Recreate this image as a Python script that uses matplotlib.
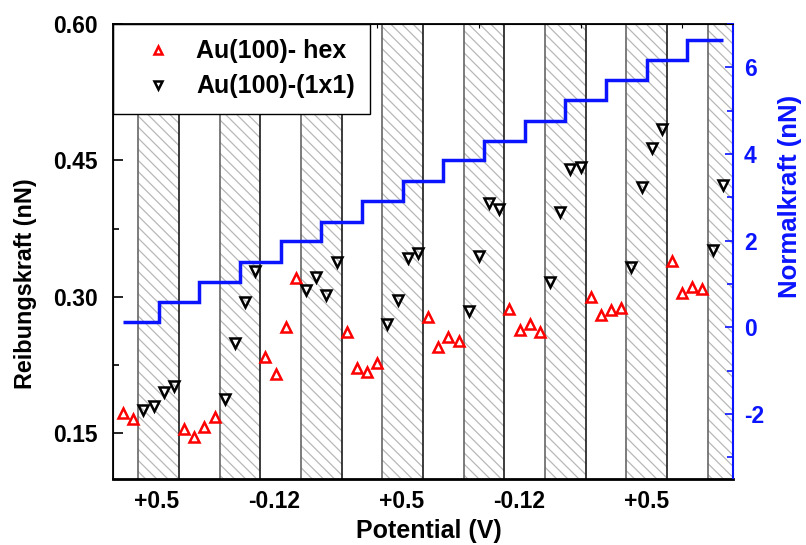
import numpy as np
import matplotlib
matplotlib.use("Agg")
import matplotlib.pyplot as plt
from matplotlib.ticker import MultipleLocator

plt.rcParams["font.family"] = ["Liberation Sans", "DejaVu Sans"]
plt.rcParams["font.weight"] = "bold"
plt.rcParams["hatch.linewidth"] = 0.9
plt.rcParams["axes.unicode_minus"] = False

# friction force, one value per measurement (index along the potential sequence)
hex_x = [0, 1, 6, 7, 8, 9, 14, 15, 16, 17, 22, 23, 24, 25, 30, 31, 32, 33,
         38, 39, 40, 41, 46, 47, 48, 49, 54, 55, 56, 57]
hex_f = [0.172, 0.166, 0.155, 0.146, 0.157, 0.168, 0.234, 0.215, 0.267, 0.321,
         0.261, 0.222, 0.218, 0.227, 0.278, 0.245, 0.256, 0.252,
         0.287, 0.264, 0.270, 0.262, 0.300, 0.280, 0.286, 0.288,
         0.340, 0.304, 0.311, 0.309]
sq_x = [2, 3, 4, 5, 10, 11, 12, 13, 18, 19, 20, 21, 26, 27, 28, 29,
        34, 35, 36, 37, 42, 43, 44, 45, 50, 51, 52, 53, 58, 59]
sq_f = [0.176, 0.180, 0.196, 0.202, 0.188, 0.249, 0.295, 0.329,
        0.308, 0.322, 0.302, 0.338, 0.270, 0.297, 0.343, 0.348,
        0.285, 0.345, 0.403, 0.397, 0.316, 0.393, 0.441, 0.443,
        0.333, 0.421, 0.464, 0.485, 0.352, 0.423]

# applied normal force (nN), one level per step
normal_f = [0.12, 0.58, 1.04, 1.51, 2.00, 2.44, 2.91, 3.37, 3.85, 4.31,
            4.77, 5.24, 5.70, 6.17, 6.64]

pot_ticks = [3.3, 14.9, 27.4, 39.0, 51.5]
pot_labels = ["+0.5", "-0.12", "+0.5", "-0.12", "+0.5"]

blue = "#0a14ff"

fig = plt.figure(figsize=(8.06, 5.45), dpi=100)
ax = fig.add_axes([0.1402, 0.1211, 0.7692, 0.8349])
ax2 = ax.twinx()

# hatched regions = (1x1) phase
for s in np.arange(1.5, 62, 8):
    ax.axvspan(s, s + 4, facecolor="white", edgecolor="0.72", hatch="\\\\\\",
               linewidth=0, zorder=0)
    ax.axvline(s, color="0.4", lw=1.2, zorder=0.5)
    ax.axvline(s + 4, color="0.1", lw=1.2, zorder=0.5)

ax.plot(hex_x, hex_f, ls="none", marker="^", ms=7.5, mfc="none", mec="red",
        mew=1.8, label="Au(100)- hex", zorder=3)
ax.plot(sq_x, sq_f, ls="none", marker="v", ms=7.5, mfc="none", mec="black",
        mew=1.8, label="Au(100)-(1x1)", zorder=3)

edges = np.r_[0, np.arange(3.5, 56, 4), 59]
ax2.stairs(normal_f, edges, baseline=None, color=blue, lw=2.5)

ax.set_xlim(-1, 60)
ax.set_ylim(0.10, 0.60)
ax2.set_ylim(-3.5, 7)

ax.set_xticks(pot_ticks)
ax.set_xticklabels(pot_labels)
ax.tick_params(axis="x", length=0, pad=8, labelsize=16.5)
ax.yaxis.set_major_locator(MultipleLocator(0.15))
ax.yaxis.set_minor_locator(MultipleLocator(0.075))
ax.yaxis.set_major_formatter(matplotlib.ticker.FormatStrFormatter("%.2f"))
ax.tick_params(axis="y", which="major", direction="in", length=7, width=1.2,
               labelsize=16.5, pad=11)
ax.tick_params(axis="y", which="minor", direction="in", length=4.5, width=1.2)

top = ax.secondary_xaxis("top")
top.set_xticks(np.arange(5, 60, 10))
top.tick_params(direction="in", length=3, labeltop=False)
top.spines["top"].set_visible(False)

ax2.yaxis.set_major_locator(MultipleLocator(2))
ax2.yaxis.set_minor_locator(MultipleLocator(1))
ax2.tick_params(axis="y", which="major", direction="in", length=6, width=1.2,
                colors=blue, labelsize=16.5, pad=8)
ax2.tick_params(axis="y", which="minor", direction="in", length=4, width=1.2,
                colors=blue)
for sp in ["left", "top"]:
    ax.spines[sp].set_linewidth(1.3)
ax.spines["bottom"].set_linewidth(2)
ax2.spines["right"].set_color(blue)
ax2.spines["right"].set_linewidth(1.5)
ax.spines["right"].set_visible(False)

ax.set_xlabel("Potential (V)", fontsize=18, fontweight="bold")
ax.xaxis.set_label_coords(0.509, -0.089)
ax.set_ylabel("Reibungskraft (nN)", fontsize=16.8, fontweight="bold")
ax.yaxis.set_label_coords(-0.123, 0.43)
ax2.set_ylabel("Normalkraft (nN)", fontsize=18.5, fontweight="bold", color=blue)
ax2.yaxis.set_label_coords(1.072, 0.622)

leg = ax.legend(loc="upper left", bbox_to_anchor=(0, 1), borderaxespad=0,
                fancybox=False, framealpha=1, edgecolor="black",
                prop={"size": 18, "weight": "bold"}, handlelength=2.36,
                handletextpad=0.34, borderpad=0.62, labelspacing=0.44,
                markerscale=0.8)
leg.get_frame().set_linewidth(1.0)
leg.set_zorder(5)

fig.savefig("out.png", dpi=100)
